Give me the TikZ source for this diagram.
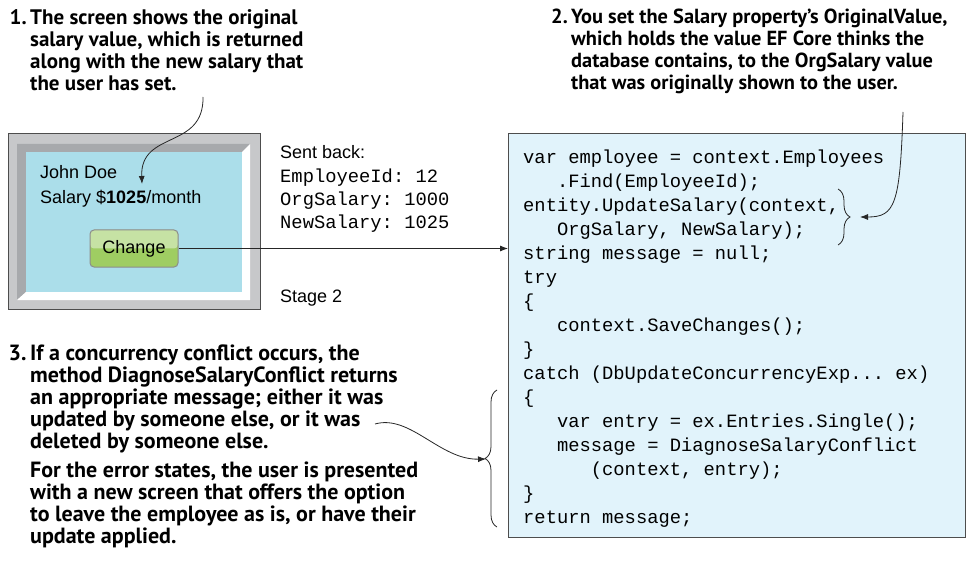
\documentclass[tikz,border=0pt]{standalone}
\usepackage{fontspec}
\setmainfont{Liberation Sans}
\setmonofont{Liberation Mono}
\newfontfamily\notefont{PT Sans}
\usetikzlibrary{arrows.meta,decorations.pathreplacing,positioning}
\definecolor{screengray}{HTML}{C7C8CA}
\definecolor{bevelgray}{HTML}{A7A9AC}
\definecolor{screenblue}{HTML}{ABDEEA}
\definecolor{codeblue}{HTML}{E1F3FB}
\definecolor{btntop}{HTML}{C6E2A4}
\definecolor{btnbot}{HTML}{9FCD62}
\definecolor{linegray}{HTML}{4D4D4D}
\newcommand\ind{\phantom{000}}
\begin{document}
\begin{tikzpicture}[x=1pt, y=-1pt,
    note/.style={anchor=north west, inner sep=0pt, align=left, font=\notefont\bfseries\fontsize{#1}{22}\selectfont},
    plain/.style={anchor=base west, inner sep=0pt, font=\fontsize{18}{21}\selectfont},
    mono/.style={anchor=base west, inner sep=0pt, font=\ttfamily\fontsize{18.8}{23}\selectfont},
    pointer/.style={-{Latex[length=8pt,width=6pt]}, line width=0.8pt, black!85},
    curly/.style={decorate, decoration={brace, amplitude=12pt}, line width=0.8pt, black!85}]
  \useasboundingbox (0,0) rectangle (971,577);
  % the screen
  \node (screen) [draw=linegray, line width=1pt, fill=screengray, minimum width=252pt, minimum height=175pt] at (134,221.5) {};
  \fill[bevelgray] (17,144) -- (250,144) -- (242,152) -- (26,152) -- (26,292) -- (17,300) -- cycle;
  \fill[white] (250,144) -- (250,300) -- (17,300) -- (26,292) -- (242,292) -- (242,152) -- cycle;
  \node (panel) [fill=screenblue, minimum width=216pt, minimum height=140pt] at (134,222) {};
  \node (name) [plain] at (40,179) {John Doe};
  \node (salary) [plain] at (40,204) {Salary \$\textbf{1025}/month};
  \node (btn) [draw=black!45, line width=1pt, rounded corners=4pt, fill=btnbot, minimum width=88pt, minimum height=37pt, font=\fontsize{18}{21}\selectfont,
    path picture={\fill[btntop] (path picture bounding box.north west) rectangle (path picture bounding box.east);}] at (134,248.5) {Change};
  \node (sent) [plain] at (280,159) {Sent back:};
  \node (eid) [mono] at (280,183) {EmployeeId: 12};
  \node (org) [mono] at (280,206) {OrgSalary: 1000};
  \node (new) [mono] at (280,229) {NewSalary: 1025};
  \node (stage) [plain] at (280,302) {Stage 2};
  % the code
  \node (code) [anchor=north west, draw=linegray, line width=1pt, fill=codeblue, minimum width=457pt, minimum height=404pt] at (508,133) {};
  \node (lines) [anchor=north west, inner sep=0pt, align=left, font=\ttfamily\fontsize{18.8}{24}\selectfont] at (523,150) {var employee = context.Employees\\
\ind.Find(EmployeeId);\\
entity.UpdateSalary(context,\\
\ind OrgSalary, NewSalary);\\
string message = null;\\
try\\
\{\\
\ind context.SaveChanges();\\
\}\\
catch (DbUpdateConcurrencyExp... ex)\\
\{\\
\ind var entry = ex.Entries.Single();\\
\ind message = DiagnoseSalaryConflict\\
\ind\ind(context, entry);\\
\}\\
return message;};
  % the notes
  \node (n1) [note=21] at (30,9) {\llap{1.\,}The screen shows the original\\salary value, which is returned\\along with the new salary that\\the user has set.};
  \node (n2) [note=20.4] at (571,9) {\llap{2.\,}You set the Salary property’s OriginalValue,\\which holds the value EF Core thinks the\\database contains, to the OrgSalary value\\that was originally shown to the user.};
  \node (n3) [note=22] at (30,345) {\llap{3.\,}If a concurrency conflict occurs, the\\method DiagnoseSalaryConflict returns\\an appropriate message; either it was\\updated by someone else, or it was\\deleted by someone else.\\[7pt]
For the error states, the user is presented\\with a new screen that offers the option\\to leave the employee as is, or have their\\update applied.};
  \coordinate (n1end) at (203,97);
  \coordinate (n2end) at (903,112);
  \coordinate (n3end) at (375,424);
  \coordinate (upd) at (860,217);
  \coordinate (catch) at (486,459);
  % Braces
  \draw[curly] (838,189) -- (838,245);
  \draw[curly] (497,527) -- (497,390);
  % Arrows
  \draw[pointer] (btn.east) -- (btn.east -| code.west);
  \draw[pointer] (n1end) .. controls (204,150) and (140,130) .. (142,184);
  \draw[pointer] (n2end) .. controls (900,205) and (895,217) .. (upd);
  \draw[pointer] (n3end) .. controls (410,414) and (440,460) .. (catch);
\end{tikzpicture}
\end{document}
